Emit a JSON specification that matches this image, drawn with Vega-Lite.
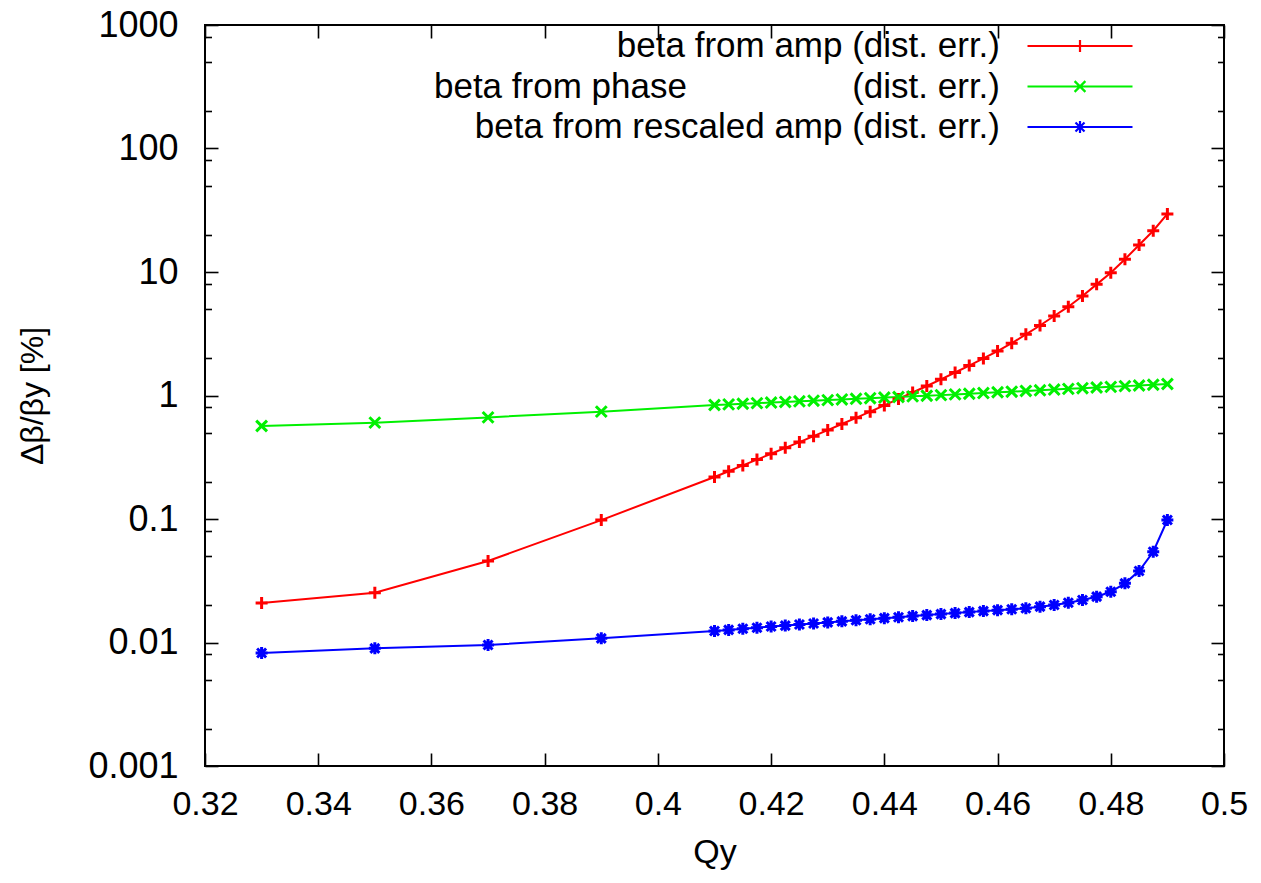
{
  "$schema": "https://vega.github.io/schema/vega-lite/v6.json",
  "width": 1019,
  "height": 741,
  "autosize": {"type": "none"},
  "padding": {"left": 205, "top": 25, "right": 37, "bottom": 117},
  "background": "white",
  "config": {
    "view": {"stroke": "black", "strokeWidth": 2},
    "font": "Liberation Sans",
    "axis": {"labelFont": "Liberation Sans", "titleFont": "Liberation Sans", "labelColor": "black", "titleColor": "black", "tickColor": "black", "tickWidth": 1.6, "domain": false, "grid": false, "titleFontWeight": "normal", "labelFlush": false, "labelOverlap": false}
  },
  "data": {"values": [
    {"s":"amp","q":0.33,"v":0.0209},{"s":"amp","q":0.35,"v":0.0253},{"s":"amp","q":0.37,"v":0.0457},{"s":"amp","q":0.39,"v":0.098},
    {"s":"amp","q":0.41,"v":0.2188},{"s":"amp","q":0.4125,"v":0.2438},{"s":"amp","q":0.415,"v":0.2716},{"s":"amp","q":0.4175,"v":0.3027},
    {"s":"amp","q":0.42,"v":0.3373},{"s":"amp","q":0.4225,"v":0.3767},{"s":"amp","q":0.425,"v":0.4198},{"s":"amp","q":0.4275,"v":0.4688},
    {"s":"amp","q":0.43,"v":0.5248},{"s":"amp","q":0.4325,"v":0.5875},{"s":"amp","q":0.435,"v":0.6592},{"s":"amp","q":0.4375,"v":0.7396},
    {"s":"amp","q":0.44,"v":0.8318},{"s":"amp","q":0.4425,"v":0.9376},{"s":"amp","q":0.445,"v":1.057},{"s":"amp","q":0.4475,"v":1.194},
    {"s":"amp","q":0.45,"v":1.352},{"s":"amp","q":0.4525,"v":1.535},{"s":"amp","q":0.455,"v":1.746},{"s":"amp","q":0.4575,"v":1.995},
    {"s":"amp","q":0.46,"v":2.291},{"s":"amp","q":0.4625,"v":2.649},{"s":"amp","q":0.465,"v":3.126},{"s":"amp","q":0.4675,"v":3.69},
    {"s":"amp","q":0.47,"v":4.406},{"s":"amp","q":0.4725,"v":5.236},{"s":"amp","q":0.475,"v":6.397},{"s":"amp","q":0.4775,"v":7.943},
    {"s":"amp","q":0.48,"v":9.863},{"s":"amp","q":0.4825,"v":12.68},{"s":"amp","q":0.485,"v":16.56},{"s":"amp","q":0.4875,"v":21.58},
    {"s":"amp","q":0.49,"v":29.51},
    {"s":"phase","q":0.33,"v":0.566},{"s":"phase","q":0.35,"v":0.603},{"s":"phase","q":0.37,"v":0.665},{"s":"phase","q":0.39,"v":0.74},
    {"s":"phase","q":0.41,"v":0.838},{"s":"phase","q":0.4125,"v":0.847},{"s":"phase","q":0.415,"v":0.857},{"s":"phase","q":0.4175,"v":0.867},
    {"s":"phase","q":0.42,"v":0.877},{"s":"phase","q":0.4225,"v":0.887},{"s":"phase","q":0.425,"v":0.897},{"s":"phase","q":0.4275,"v":0.908},
    {"s":"phase","q":0.43,"v":0.918},{"s":"phase","q":0.4325,"v":0.929},{"s":"phase","q":0.435,"v":0.94},{"s":"phase","q":0.4375,"v":0.951},
    {"s":"phase","q":0.44,"v":0.962},{"s":"phase","q":0.4425,"v":0.973},{"s":"phase","q":0.445,"v":0.984},{"s":"phase","q":0.4475,"v":0.995},
    {"s":"phase","q":0.45,"v":1.007},{"s":"phase","q":0.4525,"v":1.021},{"s":"phase","q":0.455,"v":1.033},{"s":"phase","q":0.4575,"v":1.047},
    {"s":"phase","q":0.46,"v":1.062},{"s":"phase","q":0.4625,"v":1.074},{"s":"phase","q":0.465,"v":1.089},{"s":"phase","q":0.4675,"v":1.102},
    {"s":"phase","q":0.47,"v":1.117},{"s":"phase","q":0.4725,"v":1.132},{"s":"phase","q":0.475,"v":1.146},{"s":"phase","q":0.4775,"v":1.161},
    {"s":"phase","q":0.48,"v":1.175},{"s":"phase","q":0.4825,"v":1.191},{"s":"phase","q":0.485,"v":1.205},{"s":"phase","q":0.4875,"v":1.222},
    {"s":"phase","q":0.49,"v":1.239},
    {"s":"rescaled","q":0.33,"v":0.00822},{"s":"rescaled","q":0.35,"v":0.00897},{"s":"rescaled","q":0.37,"v":0.00955},{"s":"rescaled","q":0.39,"v":0.0108},
    {"s":"rescaled","q":0.41,"v":0.01239},{"s":"rescaled","q":0.4125,"v":0.01265},{"s":"rescaled","q":0.415,"v":0.01291},{"s":"rescaled","q":0.4175,"v":0.01318},
    {"s":"rescaled","q":0.42,"v":0.01346},{"s":"rescaled","q":0.4225,"v":0.01371},{"s":"rescaled","q":0.425,"v":0.014},{"s":"rescaled","q":0.4275,"v":0.01426},
    {"s":"rescaled","q":0.43,"v":0.01455},{"s":"rescaled","q":0.4325,"v":0.01483},{"s":"rescaled","q":0.435,"v":0.01514},{"s":"rescaled","q":0.4375,"v":0.01542},
    {"s":"rescaled","q":0.44,"v":0.01574},{"s":"rescaled","q":0.4425,"v":0.01603},{"s":"rescaled","q":0.445,"v":0.01637},{"s":"rescaled","q":0.4475,"v":0.01667},
    {"s":"rescaled","q":0.45,"v":0.01698},{"s":"rescaled","q":0.4525,"v":0.0173},{"s":"rescaled","q":0.455,"v":0.01762},{"s":"rescaled","q":0.4575,"v":0.01795},
    {"s":"rescaled","q":0.46,"v":0.01828},{"s":"rescaled","q":0.4625,"v":0.01857},{"s":"rescaled","q":0.465,"v":0.01892},{"s":"rescaled","q":0.4675,"v":0.0195},
    {"s":"rescaled","q":0.47,"v":0.02014},{"s":"rescaled","q":0.4725,"v":0.021},{"s":"rescaled","q":0.475,"v":0.02208},{"s":"rescaled","q":0.4775,"v":0.0235},
    {"s":"rescaled","q":0.48,"v":0.02576},{"s":"rescaled","q":0.4825,"v":0.03013},{"s":"rescaled","q":0.485,"v":0.03793},{"s":"rescaled","q":0.4875,"v":0.0543},
    {"s":"rescaled","q":0.49,"v":0.0982}
  ]},
  "resolve": {"axis": {"x": "independent", "y": "independent"}},
  "layer": [
    {
      "mark": {"type": "line", "strokeWidth": 2},
      "encoding": {
        "x": {"field": "q", "type": "quantitative", "scale": {"domain": [0.32, 0.5], "nice": false, "zero": false},
              "axis": {"orient": "bottom", "values": [0.32,0.34,0.36,0.38,0.4,0.42,0.44,0.46,0.48,0.5], "format": "~g", "tickSize": -13, "labelPadding": 34, "labelFontSize": 34, "title": "Qy", "titleFontSize": 34, "titlePadding": 14}},
        "y": {"field": "v", "type": "quantitative", "scale": {"type": "log", "domain": [0.001, 1000], "nice": false},
              "axis": {"orient": "left", "values": [0.001,0.01,0.1,1,10,100,1000], "format": "~g", "tickSize": -13, "labelPadding": 40, "labelFontSize": 36, "title": "Δβ/βy [%]", "titleFontSize": 32, "titlePadding": 38}},
        "color": {"field": "s", "type": "nominal", "scale": {"domain": ["amp","phase","rescaled"], "range": ["#ff0000","#00f000","#0000ff"]},
          "legend": {
            "orient": "none", "legendX": 857.5, "legendY": 3.5, "title": null, "padding": 0, "rowPadding": 4.5,
            "labelAlign": "right", "labelOffset": -97.5, "labelFontSize": 35, "labelFont": "Liberation Sans", "labelColor": "black", "labelLimit": 0,
            "symbolSize": 144, "symbolStrokeWidth": 2.2, "symbolFillColor": "transparent",
            "symbolType": "M-8.75,0L8.75,0",
            "labelExpr": "datum.label == 'amp' ? 'beta from amp (dist. err.)' : datum.label == 'phase' ? 'beta from phase\u00a0\u00a0\u00a0\u00a0\u00a0\u00a0\u00a0\u00a0\u00a0\u00a0\u00a0\u00a0\u00a0\u00a0\u00a0\u00a0\u00a0(dist. err.)' : 'beta from rescaled amp (dist. err.)'",
            "encoding": {"symbols": {
              "shape": {"value": {"expr": "datum.value == 'amp' ? 'M-8.75,0L8.75,0M0,-1L0,1' : datum.value == 'phase' ? 'M-8.75,0L8.75,0M-0.9,-0.9L0.9,0.9M-0.9,0.9L0.9,-0.9' : 'M-8.75,0L8.75,0M0,-1L0,1M-0.75,-0.75L0.75,0.75M-0.75,0.75L0.75,-0.75'"}}
            }}
          }},
        "detail": {"field": "s"}
      }
    },
    {
      "transform": [{"filter": "datum.s == 'amp'"}],
      "mark": {"type": "point", "filled": false, "strokeWidth": 3, "opacity": 1, "size": 144, "color": "#ff0000", "shape": "M-1,0L1,0M0,-1L0,1"},
      "encoding": {
        "x": {"field": "q", "type": "quantitative", "axis": {"orient": "top", "values": [0.32,0.34,0.36,0.38,0.4,0.42,0.44,0.46,0.48,0.5], "labels": false, "tickSize": -13, "title": null}},
        "y": {"field": "v", "type": "quantitative", "axis": {"orient": "right", "values": [0.001,0.01,0.1,1,10,100,1000], "labels": false, "tickSize": -13, "title": null}}
      }
    },
    {
      "transform": [{"filter": "datum.s == 'phase'"}],
      "mark": {"type": "point", "filled": false, "strokeWidth": 3, "opacity": 1, "size": 144, "color": "#00f000", "shape": "M-0.9,-0.9L0.9,0.9M-0.9,0.9L0.9,-0.9"},
      "encoding": {
        "x": {"field": "q", "type": "quantitative", "axis": null},
        "y": {"field": "v", "type": "quantitative", "axis": {"orient": "left", "values": [0.002,0.005,0.008,0.02,0.05,0.08,0.2,0.5,0.8,2,5,8,20,50,80,200,500,800], "labels": false, "tickSize": -6.5, "title": null}}
      }
    },
    {
      "transform": [{"filter": "datum.s == 'rescaled'"}],
      "mark": {"type": "point", "filled": false, "strokeWidth": 3, "opacity": 1, "size": 144, "color": "#0000ff", "shape": "M-1,0L1,0M0,-1L0,1M-0.75,-0.75L0.75,0.75M-0.75,0.75L0.75,-0.75"},
      "encoding": {
        "x": {"field": "q", "type": "quantitative", "axis": null},
        "y": {"field": "v", "type": "quantitative", "axis": {"orient": "right", "values": [0.002,0.005,0.008,0.02,0.05,0.08,0.2,0.5,0.8,2,5,8,20,50,80,200,500,800], "labels": false, "tickSize": -6.5, "title": null}}
      }
    }
  ]
}
